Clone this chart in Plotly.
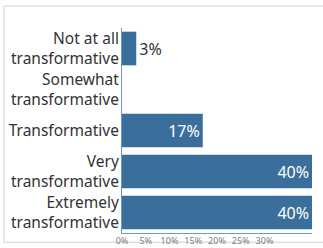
import plotly.graph_objects as go

categories = ["Not at all<br>transformative", "Somewhat<br>transformative", "Transformative",
              "Very<br>transformative", "Extremely<br>transformative"]
values = [3, 0, 17, 40, 40]
labels = ["3%", "", "17%", "40%", "40%"]
tick_vals = [0, 5, 10, 15, 20, 25, 30]
tick_text = ["0%", "5%", "10%", "15%", "20%", "25%", "30%"]

bar_color = "#3b6f9b"
font_family = "Noto Sans"

fig = go.Figure(go.Bar(
    x=values, y=categories, orientation="h",
    marker=dict(color=bar_color, line=dict(width=0)),
    text=labels,
    textposition=["outside", "none", "inside", "inside", "inside"],
    insidetextanchor="end",
    insidetextfont=dict(color="white", size=16, family=font_family),
    outsidetextfont=dict(color="#333333", size=16, family=font_family),
    cliponaxis=False,
))

fig.update_layout(
    width=323, height=248,
    margin=dict(l=122, r=11, t=28, b=15),
    paper_bgcolor="white", plot_bgcolor="white",
    bargap=0.18,
    showlegend=False,
    font=dict(family=font_family, color="#333333"),
    xaxis=dict(range=[0, 40], tickvals=tick_vals, ticktext=tick_text, automargin=False,
               showgrid=False, zeroline=False, showline=True, linecolor="#6b9cc6",
               linewidth=1, ticks="", tickfont=dict(size=9, color="#808080"),
               ticklabelstandoff=-1),
    yaxis=dict(autorange="reversed", showgrid=False, zeroline=False, showline=True,
               automargin=False,
               linecolor="#6b9cc6", linewidth=1, ticks="",
               tickfont=dict(size=15.5, color="#333333"), ticklabelstandoff=-1),
    shapes=[dict(type="rect", xref="paper", yref="paper",
                 x0=-0.621, x1=1.2, y0=-0.045, y1=1.107,
                 line=dict(color="#d0d0d0", width=1), layer="below")],
)

fig.write_html("out.html", post_script="document.body.style.margin='0';",
               config={"displayModeBar": False})
